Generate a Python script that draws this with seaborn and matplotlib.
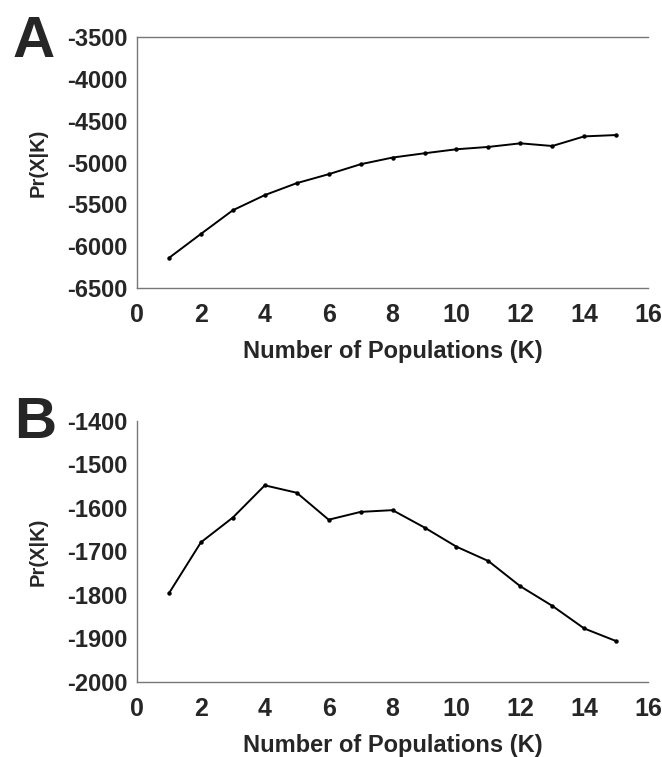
import matplotlib
matplotlib.use("Agg")
import matplotlib.pyplot as plt
import seaborn as sns
import pandas as pd

# ---- data ----
k_values = list(range(1, 16))
lnp_a = [-6140, -5853, -5570, -5389, -5246, -5139, -5020, -4940, -4889,
         -4841, -4813, -4770, -4802, -4687, -4671]
lnp_b = [-1796, -1679, -1622, -1548, -1565, -1627, -1609, -1605, -1645,
         -1689, -1722, -1780, -1825, -1877, -1906]
x_ticks = [0, 2, 4, 6, 8, 10, 12, 14, 16]
yticks_a = [-6500, -6000, -5500, -5000, -4500, -4000, -3500]
yticks_b = [-2000, -1900, -1800, -1700, -1600, -1500, -1400]
panel_letters = ["A", "B"]
x_label = "Number of Populations (K)"
y_label = "Pr(X|K)"

sns.set_style("white")
plt.rcParams["font.family"] = ["Liberation Sans", "DejaVu Sans"]

fig = plt.figure(figsize=(6.62, 7.57), dpi=100)
ax_a = fig.add_axes([0.207, 0.6195, 0.979 - 0.207, 0.951 - 0.6195])
ax_b = fig.add_axes([0.207, 0.0991, 0.979 - 0.207, 0.4439 - 0.0991])

df_a = pd.DataFrame({"K": k_values, "P": lnp_a})
df_b = pd.DataFrame({"K": k_values, "P": lnp_b})

spine_col = "#777777"
for ax, df, yt, top in [(ax_a, df_a, yticks_a, True),
                        (ax_b, df_b, yticks_b, False)]:
    sns.lineplot(data=df, x="K", y="P", ax=ax, color="black", linewidth=1.4,
                 marker="o", markersize=3.2, markeredgewidth=0)
    ax.set_xlim(0, 16)
    ax.set_ylim(yt[0], yt[-1])
    ax.set_xticks(x_ticks)
    ax.set_yticks(yt)
    ax.set_xticklabels([str(v) for v in x_ticks], fontsize=18, fontweight="bold")
    ax.set_yticklabels([str(v) for v in yt], fontsize=17, fontweight="bold")
    ax.tick_params(axis="x", direction="in", length=4, width=1, color=spine_col, pad=11)
    ax.tick_params(axis="y", direction="out", length=4, width=1, color=spine_col, pad=3)
    for s in ["left", "bottom", "top", "right"]:
        ax.spines[s].set_color(spine_col)
        ax.spines[s].set_linewidth(1)
    ax.spines["right"].set_visible(False)
    ax.spines["top"].set_visible(top)
    ax.set_xlabel(x_label, fontsize=17, fontweight="bold", labelpad=9)
    ax.set_ylabel(y_label, fontsize=14.5, fontweight="bold", labelpad=14)
    ax.grid(False)

fig.text(13 / 662, 1 - 15 / 757, panel_letters[0], fontsize=42, fontweight="bold",
         ha="left", va="top")
fig.text(14 / 662, 1 - 396 / 757, panel_letters[1], fontsize=42, fontweight="bold",
         ha="left", va="top")

fig.savefig("out.png", dpi=100)
